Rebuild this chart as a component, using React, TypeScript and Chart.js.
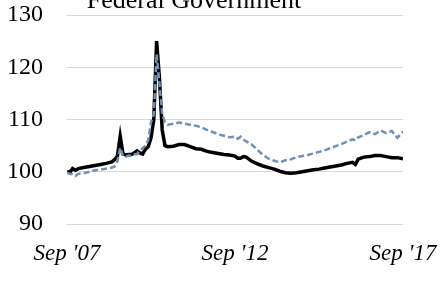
import React, { useEffect, useRef } from "react";
import { Chart, registerables } from "chart.js";

Chart.register(...registerables);

const titleText = "Federal Government";
const xTickLabels = ["Sep '07", "Sep '12", "Sep '17"];
const xTickMonths = [0, 60, 120];
const yTicks = [90, 100, 110, 120, 130];

// month offsets since Sep 2007
const months = [
  0, 1, 2, 3, 4, 6, 8, 10, 12, 14, 16, 17, 18, 19, 20, 21, 22, 23, 24, 25, 26, 27, 28, 29, 30, 31, 32, 33, 34, 35,
  36, 38, 40, 42, 44, 46, 48, 50, 52, 54, 56, 58, 60, 61, 62, 63, 64, 66, 68, 70, 72, 74, 76, 78, 80, 82, 84, 86,
  88, 90, 92, 94, 96, 98, 100, 102, 103, 104, 106, 108, 110, 112, 114, 116, 118, 120,
];

const federal = [
  100.0, 99.9, 100.6, 100.3, 100.6, 100.8, 101.0, 101.2, 101.4, 101.6, 101.9, 102.3, 103.0, 106.8, 103.4, 103.2,
  103.3, 103.3, 103.6, 104.0, 103.6, 103.4, 104.3, 104.8, 106.5, 110.0, 125.0, 118.0, 108.0, 105.0,
  104.8, 104.9, 105.2, 105.2, 104.8, 104.4, 104.3, 103.9, 103.7, 103.5, 103.3, 103.2, 103.0, 102.6, 102.6, 102.9,
  102.8, 102.0, 101.5, 101.1, 100.8, 100.5, 100.1, 99.8, 99.7, 99.8, 100.0, 100.2, 100.4, 100.5, 100.7, 100.9,
  101.1, 101.3, 101.6, 101.8, 101.4, 102.4, 102.8, 102.9, 103.1, 103.1, 102.9, 102.7, 102.7, 102.5,
];

const comparison = [
  99.8, 99.6, 99.5, 99.2, 99.6, 99.7, 100.0, 100.3, 100.4, 100.6, 100.8, 101.0, 102.0, 104.6, 103.0, 102.9,
  103.1, 103.0, 103.3, 103.4, 104.0, 104.5, 105.0, 106.0, 109.5, 111.0, 122.5, 117.0, 111.0, 109.5,
  109.0, 109.2, 109.4, 109.2, 109.0, 108.8, 108.5, 108.0, 107.6, 107.2, 106.9, 106.6, 106.7, 106.3, 106.7, 106.2,
  105.8, 105.2, 104.2, 103.2, 102.5, 102.1, 101.8, 102.2, 102.4, 102.8, 103.0, 103.2, 103.5, 103.8, 104.1, 104.5,
  104.9, 105.3, 105.8, 106.2, 106.0, 106.6, 107.0, 107.6, 107.2, 107.9, 107.4, 107.8, 106.5, 107.7,
];

const titlePlugin = {
  id: "cutTitle",
  afterDraw(chart: any) {
    const ctx = chart.ctx;
    ctx.save();
    ctx.font = "26px 'Liberation Serif', serif";
    ctx.fillStyle = "#000";
    ctx.textAlign = "center";
    ctx.textBaseline = "alphabetic";
    ctx.fillText(titleText, 194, 8);
    ctx.restore();
  },
};

const zeroPad = (s: any) => {
  s.paddingTop = 0;
  s.paddingBottom = 0;
  s.paddingLeft = 0;
  s.paddingRight = 0;
};

export default function App() {
  const ref = useRef<HTMLCanvasElement>(null);
  useEffect(() => {
    if (!ref.current) return;
    const chart = new Chart(ref.current, {
      type: "line",
      data: {
        datasets: [
          {
            label: "Comparison",
            data: months.map((m, i) => ({ x: m, y: comparison[i] })),
            borderColor: "#6f91b5",
            borderWidth: 2.5,
            borderDash: [6, 3],
            pointRadius: 0,
            tension: 0,
            fill: false,
          },
          {
            label: "Federal Government",
            data: months.map((m, i) => ({ x: m, y: federal[i] })),
            borderColor: "#000000",
            borderWidth: 3.5,
            pointRadius: 0,
            tension: 0,
            fill: false,
          },
        ],
      },
      options: {
        animation: false,
        responsive: false,
        maintainAspectRatio: false,
        layout: { padding: { left: 0, right: 40, top: 15, bottom: 0 } },
        plugins: { legend: { display: false }, tooltip: { enabled: false }, title: { display: false } },
        scales: {
          x: {
            type: "linear",
            min: 0,
            max: 120,
            grid: { display: false },
            border: { display: false },
            afterFit: (s: any) => {
              s.height = 72;
              zeroPad(s);
            },
            afterBuildTicks: (s: any) => {
              s.ticks = xTickMonths.map((v) => ({ value: v }));
            },
            ticks: {
              autoSkip: false,
              maxRotation: 0,
              minRotation: 0,
              padding: 8,
              color: "#000",
              font: { family: "'Liberation Serif', serif", size: 23, style: "italic" },
              callback: (v: any) => xTickLabels[xTickMonths.indexOf(Number(v))] ?? "",
            },
          },
          y: {
            min: 90,
            max: 130,
            grid: { color: "#d9d9d9", lineWidth: 1, drawTicks: false },
            border: { display: false },
            afterFit: (s: any) => {
              s.width = 67;
              zeroPad(s);
            },
            afterBuildTicks: (s: any) => {
              s.ticks = yTicks.map((v) => ({ value: v }));
            },
            ticks: {
              padding: 24,
              color: "#000",
              font: { family: "'Liberation Serif', serif", size: 24 },
            },
          },
        },
      },
      plugins: [titlePlugin],
    });
    return () => chart.destroy();
  }, []);
  return (
    <div style={{ position: "fixed", left: 0, top: 0, width: 443, height: 296, background: "#fff" }}>
      <canvas ref={ref} width={443} height={296} style={{ width: 443, height: 296 }} />
    </div>
  );
}
